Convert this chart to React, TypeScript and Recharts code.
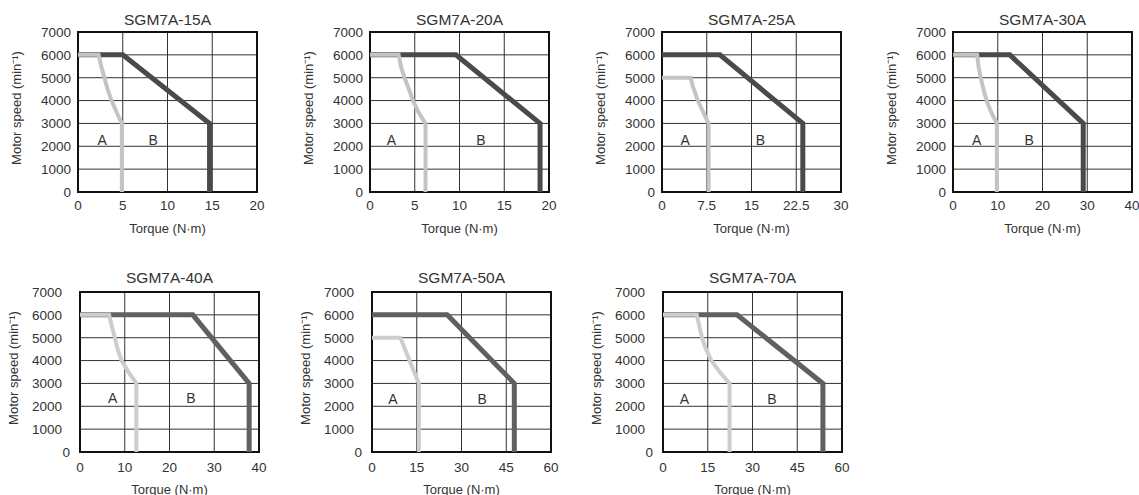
import { LineChart, Line, XAxis, YAxis, CartesianGrid, ReferenceArea, ReferenceDot, Label } from 'recharts'

type Pt = [number, number]

// motor models, one panel each
const models = ['SGM7A-15A', 'SGM7A-20A', 'SGM7A-25A', 'SGM7A-30A', 'SGM7A-40A', 'SGM7A-50A', 'SGM7A-70A']

const speedTicks = [0, 1000, 2000, 3000, 4000, 5000, 6000, 7000]
const torqueTicks = [
  [0, 5, 10, 15, 20],
  [0, 5, 10, 15, 20],
  [0, 7.5, 15, 22.5, 30],
  [0, 10, 20, 30, 40],
  [0, 10, 20, 30, 40],
  [0, 15, 30, 45, 60],
  [0, 15, 30, 45, 60],
]

// A: continuous duty zone, [torque N·m, speed min-1]
const zoneA15: Pt[] = [[0, 6000], [2.3, 6000], [2.6, 5500], [2.95, 5000], [3.3, 4500], [3.75, 4000], [4.3, 3500], [4.9, 3000], [4.9, 0]]
const zoneA20: Pt[] = [[0, 6000], [3.2, 6000], [3.45, 5500], [3.85, 5000], [4.35, 4500], [4.8, 4000], [5.4, 3500], [6.2, 3000], [6.2, 0]]
const zoneA25: Pt[] = [[0, 5000], [4.8, 5000], [5.2, 4600], [5.6, 4300], [6.0, 4000], [6.9, 3500], [7.8, 3000], [7.8, 0]]
const zoneA30: Pt[] = [[0, 6000], [5.4, 6000], [5.7, 5500], [6.2, 5000], [6.8, 4500], [7.5, 4000], [8.5, 3500], [9.8, 3000], [9.8, 0]]
const zoneA40: Pt[] = [[0, 6000], [6.5, 6000], [7.1, 5500], [7.8, 5000], [8.4, 4500], [9.3, 4000], [10.8, 3500], [12.6, 3000], [12.6, 0]]
const zoneA50: Pt[] = [[0, 5000], [9.5, 5000], [15.7, 3000], [15.7, 0]]
const zoneA70: Pt[] = [[0, 6000], [11.3, 6000], [12, 5600], [13.1, 5000], [14.4, 4500], [16.2, 4000], [19, 3500], [22.3, 3000], [22.3, 0]]

// B: intermittent duty zone
const zoneB15: Pt[] = [[0, 6000], [5, 6000], [14.7, 3000], [14.7, 0]]
const zoneB20: Pt[] = [[0, 6000], [9.6, 6000], [19, 3000], [19, 0]]
const zoneB25: Pt[] = [[0, 6000], [9.7, 6000], [23.6, 3000], [23.6, 0]]
const zoneB30: Pt[] = [[0, 6000], [12.7, 6000], [29.1, 3000], [29.1, 0]]
const zoneB40: Pt[] = [[0, 6000], [25.2, 6000], [37.8, 3000], [37.8, 0]]
const zoneB50: Pt[] = [[0, 6000], [25.2, 6000], [47.7, 3000], [47.7, 0]]
const zoneB70: Pt[] = [[0, 6000], [24.8, 6000], [53.6, 3000], [53.6, 0]]

const zonesA = [zoneA15, zoneA20, zoneA25, zoneA30, zoneA40, zoneA50, zoneA70]
const zonesB = [zoneB15, zoneB20, zoneB25, zoneB30, zoneB40, zoneB50, zoneB70]

// where the "A" / "B" letters sit: [torque A, torque B, speed]
const letterAt = [
  [2.7, 8.4, 2275],
  [2.4, 12.4, 2275],
  [3.9, 16.5, 2275],
  [5.3, 17.0, 2275],
  [7.3, 24.8, 2380],
  [7.0, 36.9, 2330],
  [7.2, 36.5, 2330],
]

const FONT = '"Liberation Sans", Arial, Helvetica, sans-serif'
const TEXT = '#333'
const W = 290
const H = 240

// top-left corner of each panel on the page
const origins = [
  [0, 0], [292, 0], [584, 0], [875, 0],
  [2, 260], [294, 260], [585, 260],
]

const toRows = (pts: Pt[]) => pts.map(([t, n]) => ({ t, n }))

function YTitle({ viewBox, dx }: any) {
  const cx = viewBox.x + dx
  const cy = viewBox.y + viewBox.height / 2 - 4
  return (
    <text x={cx} y={cy} transform={`rotate(-90 ${cx} ${cy})`} textAnchor="middle"
      dominantBaseline="central" fontSize={13} fill={TEXT} fontFamily={FONT}>
      Motor speed (min⁻¹)
    </text>
  )
}

function XTitle({ viewBox, dy }: any) {
  const cx = viewBox.x + viewBox.width / 2
  const cy = viewBox.y + dy
  return (
    <text x={cx} y={cy} textAnchor="middle" dominantBaseline="central"
      fontSize={13} fill={TEXT} fontFamily={FONT}>
      Torque (N·m)
    </text>
  )
}

function SpeedTick({ x, y, payload, lower }: any) {
  // lower row labels sit further from the frame, except the 0
  const shift = lower && payload.value !== 0 ? 8 : 0
  return (
    <text x={x - shift} y={y} dy="0.355em" textAnchor="end" fontSize={13.5} fill={TEXT} fontFamily={FONT}>
      {payload.value}
    </text>
  )
}

function Panel({ i }: { i: number }) {
  const [left, top] = origins[i]
  const lower = i >= 4
  const ticks = torqueTicks[i]
  const max = ticks[ticks.length - 1]
  const dark = lower ? '#606060' : '#4a4a4a'
  const light = lower ? '#cdcdcd' : '#c4c4c4'
  const [ta, tb, ny] = letterAt[i]
  const letter = { fontSize: 14, fill: TEXT, fontFamily: FONT }

  return (
    <div style={{ position: 'absolute', left, top, width: W, height: H }}>
      <div style={{
        position: 'absolute', left: 78, width: 179, top: lower ? 8 : 10, textAlign: 'center',
        fontFamily: FONT, fontSize: 15.5, color: TEXT, lineHeight: '20px',
      }}>
        {models[i]}
      </div>
      <LineChart width={W} height={H} margin={{ top: 32, right: 33, bottom: 0, left: 0 }}>
        <CartesianGrid stroke="#333" strokeWidth={1} />
        <XAxis type="number" dataKey="t" domain={[0, max]} ticks={ticks} interval={0}
          tickLine={false} axisLine={false} tickSize={0} tickMargin={lower ? 10 : 8} height={48}
          tick={{ fontSize: 13.5, fill: TEXT, fontFamily: FONT }}>
          <Label content={(p: any) => <XTitle {...p} dy={lower ? 37 : 36} />} />
        </XAxis>
        <YAxis type="number" dataKey="n" domain={[0, 7000]} ticks={speedTicks} interval={0}
          tickLine={false} axisLine={false} tickSize={0} tickMargin={lower ? 10 : 7} width={78}
          tick={(p: any) => <SpeedTick {...p} lower={lower} />}>
          <Label content={(p: any) => <YTitle {...p} dx={lower ? 11 : 16} />} />
        </YAxis>
        <ReferenceArea x1={0} x2={max} y1={0} y2={7000} fill="none" stroke="#111" strokeWidth={2} ifOverflow="visible" />
        <Line data={toRows(zonesB[i])} dataKey="n" stroke={dark} strokeWidth={5} dot={false}
          type="linear" isAnimationActive={false} />
        <Line data={toRows(zonesA[i])} dataKey="n" stroke={light} strokeWidth={4} dot={false}
          type="linear" isAnimationActive={false} />
        <ReferenceDot x={ta} y={ny} r={0} fill="none" stroke="none" label={{ value: 'A', position: 'center', ...letter }} />
        <ReferenceDot x={tb} y={ny} r={0} fill="none" stroke="none" label={{ value: 'B', position: 'center', ...letter }} />
      </LineChart>
    </div>
  )
}

export default function App() {
  return (
    <div style={{ position: 'absolute', left: 0, top: 0, width: 1139, height: 495, overflow: 'hidden', background: '#fff' }}>
      {models.map((_, i) => <Panel key={i} i={i} />)}
    </div>
  )
}
